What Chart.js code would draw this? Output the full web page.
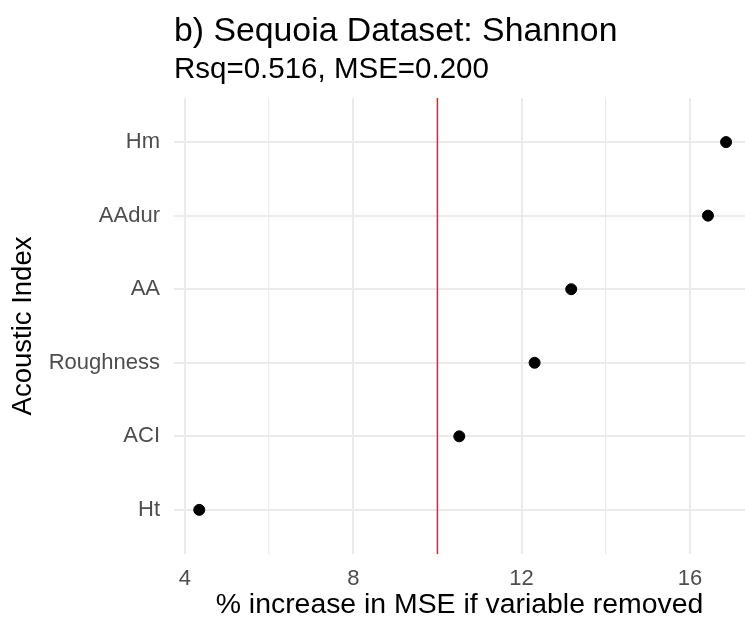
<!DOCTYPE html>
<html>
<head>
<meta charset="utf-8">
<script src="https://cdn.jsdelivr.net/npm/chart.js@4.4.1/dist/chart.umd.min.js"></script>
<style>
  html, body { margin: 0; padding: 0; background: #ffffff; }
  canvas { display: block; }
</style>
</head>
<body>
<canvas id="c" width="745" height="622"></canvas>
<script>
// Categories, bottom to top
const categories = ['Ht', 'ACI', 'Roughness', 'AA', 'AAdur', 'Hm'];
// % increase in MSE if variable removed
const incMSE = [4.34, 10.52, 12.31, 13.18, 16.43, 16.86];
// x tick labels shown, and minor grid positions
const xTickLabels = [4, 8, 12, 16];
const xMinorGrid = [6, 10, 14];
// reference line
const referenceLine = 10;

const titleText = 'b) Sequoia Dataset: Shannon';
const subtitleText = 'Rsq=0.516, MSE=0.200';
const xTitle = '% increase in MSE if variable removed';
const yTitle = 'Acoustic Index';

const FONT = "'Liberation Sans', Arial, Helvetica, sans-serif";
const GRID = '#ebebeb';
const TICK = '#4d4d4d';

const points = categories.map((c, i) => ({ x: incMSE[i], y: i + 1 }));
const yMin = 0.4, yMax = categories.length + 0.6;

new Chart(document.getElementById('c'), {
  data: {
    datasets: [
      {
        type: 'line',
        label: 'reference',
        data: [{ x: referenceLine, y: yMin }, { x: referenceLine, y: yMax }],
        borderColor: '#ff1a1a',
        borderWidth: 1.5,
        pointRadius: 0,
        fill: false,
        order: 2
      },
      {
        type: 'scatter',
        label: 'IncMSE',
        data: points,
        backgroundColor: '#000000',
        borderColor: '#000000',
        pointRadius: 5.5,
        pointHoverRadius: 5.5,
        order: 1
      }
    ]
  },
  options: {
    responsive: false,
    animation: false,
    layout: { autoPadding: false, padding: { left: 0, right: 0, top: 0, bottom: 0 } },
    plugins: {
      legend: { display: false },
      tooltip: { enabled: false },
      title: {
        display: true,
        text: titleText,
        align: 'start',
        fullSize: false,
        color: '#000000',
        font: { family: FONT, size: 33.8, weight: 'normal', lineHeight: 1.2 },
        padding: { top: 11, bottom: 0 }
      },
      subtitle: {
        display: true,
        text: subtitleText,
        align: 'start',
        fullSize: false,
        color: '#000000',
        font: { family: FONT, size: 29.5, weight: 'normal', lineHeight: 1.2 },
        padding: { top: 1, bottom: 10 }
      }
    },
    scales: {
      x: {
        type: 'linear',
        position: 'bottom',
        min: 3.74,
        max: 17.31,
        afterBuildTicks: (s) => {
          s.ticks = xTickLabels.concat(xMinorGrid).sort((a, b) => a - b).map(v => ({ value: v }));
        },
        afterFit: (s) => { s.height = 68; s.paddingLeft = 0; s.paddingRight = 0; },
        border: { display: false },
        grid: {
          color: GRID,
          lineWidth: (ctx) => {
            if (!ctx.tick) return 1.2;
            if (ctx.tick.value === referenceLine) return 0;
            return xTickLabels.includes(ctx.tick.value) ? 2 : 1.2;
          },
          drawTicks: false
        },
        ticks: {
          autoSkip: false,
          maxRotation: 0,
          padding: 12,
          color: TICK,
          font: { family: FONT, size: 22 },
          callback: (v) => xTickLabels.includes(v) ? String(v) : ''
        },
        title: {
          display: true,
          text: xTitle,
          color: '#000000',
          font: { family: FONT, size: 28.4, lineHeight: 1.2 },
          padding: { top: 0, bottom: 0 }
        }
      },
      y: {
        type: 'linear',
        position: 'left',
        min: yMin,
        max: yMax,
        afterBuildTicks: (s) => {
          s.ticks = categories.map((c, i) => ({ value: i + 1 }));
        },
        afterFit: (s) => { s.width = 174; s.paddingTop = 0; s.paddingBottom = 0; },
        border: { display: false },
        grid: {
          color: GRID,
          lineWidth: 2,
          drawTicks: false
        },
        ticks: {
          autoSkip: false,
          padding: 14,
          color: TICK,
          font: { family: FONT, size: 22 },
          callback: (v) => categories[Math.round(v) - 1] || ''
        },
        title: {
          display: true,
          text: yTitle,
          color: '#000000',
          font: { family: FONT, size: 27.5, lineHeight: 1.2 },
          padding: { top: 7, bottom: 0 }
        }
      }
    }
  },
  plugins: [{
    id: 'whiteBg',
    beforeDraw: (chart) => {
      const ctx = chart.ctx;
      ctx.save();
      ctx.fillStyle = '#ffffff';
      ctx.fillRect(0, 0, chart.width, chart.height);
      ctx.restore();
    }
  }]
});
</script>
</body>
</html>
